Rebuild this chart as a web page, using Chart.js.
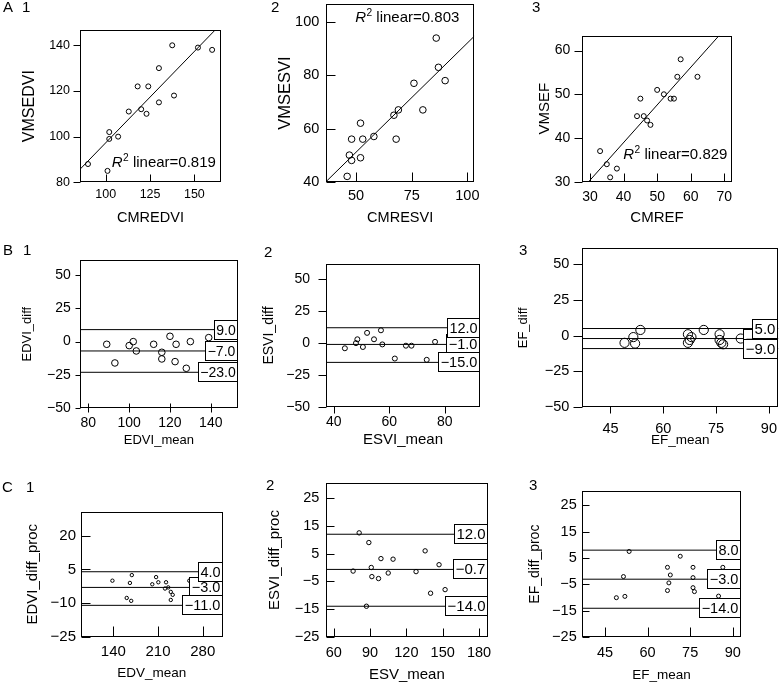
<!DOCTYPE html>
<html><head><meta charset="utf-8">
<script src="https://cdn.jsdelivr.net/npm/chart.js@4.4.0/dist/chart.umd.min.js"></script>
<style>
html,body{margin:0;padding:0;background:#fff;}
#wrap{position:relative;width:784px;height:683px;overflow:hidden;background:#fff;}
#wrap canvas{position:absolute;left:0;top:0;}
.lbl{position:absolute;font-family:"Liberation Sans",Arial,Helvetica,sans-serif;font-size:15px;line-height:16px;color:#000;white-space:nowrap;}
</style></head><body><div id="wrap"></div>
<script>
// ---------- DATA ----------
// Row A: correlation plots
const a1X = [90,101,102,102,107,113,118,120,123,124,130,130,137.5,138.5,152,160];
const a1Y = [88,85,102,99,100,111,122,112,110,122,130,115,140,118,139,138];
const a1FitX = [85.5,161.7], a1FitY = [85.7,146.7];
const a1R2 = "0.819";
const a1XTicks = [100,125,150], a1YTicks = [80,100,120,140];

const a2X = [46,47,48,48,52,52,53,58,67,68,69,76,80,86,87,90];
const a2Y = [42,50,48,56,62,49,56,57,65,56,67,77,67,94,83,78];
const a2FitX = [36.5,103.1], a2FitY = [40,94.7];
const a2R2 = "0.803";
const a2XTicks = [50,75,100], a2YTicks = [40,60,80,100];

const a3X = [33,35,36,38,44,45,46,47,48,50,52,54,55,56,57,62];
const a3Y = [37,34,31,33,45,49,45,44,43,51,50,49,49,54,58,54];
const a3FitX = [29.6,68.4], a3FitY = [30,63.4];
const a3R2 = "0.829";
const a3XTicks = [30,40,50,60,70], a3YTicks = [30,40,50,60];

// Row B: Bland-Altman (absolute differences)
const b1X = [89,93,100,102,103.5,112,116,116,120,123,122.5,128,130,139];
const b1Y = [-2,-16,-3,0,-7,-2,-8,-13,4,-2,-15,-20,0,3];
const b1Refs = [9,-7,-23], b1RefLabels = ["9.0","\u22127.0","\u221223.0"];
const b1XTicks = [80,100,120,140], b1YTicks = [-50,-25,0,25,50];

const b2X = [44,48,48.5,50.5,52,54.5,57,57.5,62,66,68,73.5,76.5];
const b2Y = [-4,0,3,-3,8,3,10,-1,-12,-2,-2,-13,1];
const b2Refs = [12,-1,-15], b2RefLabels = ["12.0","\u22121.0","\u221215.0"];
const b2XTicks = [40,60,80], b2YTicks = [-50,-25,0,25,50];

const b3X = [49,51.5,52,53.5,67,67,67.5,68,71.5,76,76,76.5,77,82];
const b3Y = [-5,-1,-5.5,4,1,-5,-3,-1,4,1,-3,-5,-6,-2];
const b3Refs = [5,-2,-9], b3RefLabels = ["5.0","\u22122.0","\u22129.0"];
const b3XTicks = [45,60,75,90], b3YTicks = [-50,-25,0,25,50];

// Row C: Bland-Altman (percent differences)
const c1X = [138.6,161,168,166,169,201,207,210.5,222.6,221,226,230,233,230,259];
const c1Y = [0,-7.7,-9,-1,2.5,-1.6,1.6,-0.7,-0.7,-3.5,-3,-5,-6.3,-8.6,0];
const c1Refs = [4,-3,-11], c1RefLabels = ["4.0","\u22123.0","\u221211.0"];
const c1XTicks = [140,210,280], c1YTicks = [-25,-10,5,20];

const c2X = [76,81,87,89,91,91.5,97,99,105,109,128,135.5,140,147,152];
const c2Y = [-1.3,12.5,-14,9,0,-3.3,-4,3.2,-2,3,-1.5,6,-9.3,1,-8];
const c2Refs = [12,-0.7,-14], c2RefLabels = ["12.0","\u22120.7","\u221214.0"];
const c2XTicks = [60,90,120,150,180], c2YTicks = [-25,-15,-5,5,15,25];

const c3X = [49,51.5,52,53.5,67,67,67.5,68,71.5,76,76,76,76.5,82,85,86.5];
const c3Y = [-10,-2,-9.5,7.5,1.5,-7.3,-4.4,-1.4,5.7,1.5,-2.4,-6.2,-7.7,-2,-9.4,1.5];
const c3Refs = [8,-3,-14], c3RefLabels = ["8.0","\u22123.0","\u221214.0"];
const c3XTicks = [45,60,75,90], c3YTicks = [-25,-15,-5,5,15,25];

const panelTags = [
  {t:"A",x:3,y:-1},{t:"1",x:22,y:-1},{t:"2",x:271,y:-1},{t:"3",x:532,y:-1},
  {t:"B",x:3,y:242},{t:"1",x:23,y:242},{t:"2",x:264,y:244},{t:"3",x:519,y:242},
  {t:"C",x:2,y:479},{t:"1",x:26,y:479},{t:"2",x:266,y:477},{t:"3",x:529,y:477}
];

// ---------- LAYOUT / STYLE ----------
const FONT = '"Liberation Sans", Arial, Helvetica, sans-serif';
const PW = 784, PH = 683;
const fmt = v => (v < 0 ? '\u2212' + Math.abs(v) : String(v));

const panels = [
  {xs:a1X, ys:a1Y, fitX:a1FitX, fitY:a1FitY, ann:{x:103.4,y:86.8,text:a1R2}, xTicks:a1XTicks, yTicks:a1YTicks,
   xTitle:"CMREDVI", yTitle:"VMSEDVI", L:80,R:221,T:30,B:182.3, xMin:85.5,xMax:165,yMin:80,yMax:146.7,
   yTD:50,xTD:36,yGap:10,xLab:12, xTick:{dir:'in',len:7}, yTick:{dir:'out',len:7}, r:2.5,
   tickFont:12.5, xtFont:14.5, ytFont:16, annFont:15},
  {xs:a2X, ys:a2Y, fitX:a2FitX, fitY:a2FitY, ann:{x:49.6,y:100,text:a2R2}, xTicks:a2XTicks, yTicks:a2YTicks,
   xTitle:"CMRESVI", yTitle:"VMSESVI", L:326,R:474.3,T:3,B:181.7, xMin:36.5,xMax:103.1,yMin:40,yMax:106.7,
   yTD:41,xTD:36,yGap:6.7,xLab:14.3, xTick:{dir:'in',len:9}, yTick:{dir:'in',len:9}, r:3.3,
   tickFont:14.5, xtFont:14.5, ytFont:16.5, annFont:15},
  {xs:a3X, ys:a3Y, fitX:a3FitX, fitY:a3FitY, ann:{x:39.9,y:35.1,text:a3R2}, xTicks:a3XTicks, yTicks:a3YTicks,
   xTitle:"CMREF", yTitle:"VMSEF", L:582.3,R:731.7,T:35.7,B:181.7, xMin:27.7,xMax:72.2,yMin:30,yMax:63.4,
   yTD:37,xTD:36,yGap:12,xLab:15, xTick:{dir:'in',len:8}, yTick:{dir:'out',len:8}, r:2.5,
   tickFont:14, xtFont:15, ytFont:15, annFont:15},
  {xs:b1X, ys:b1Y, refs:b1Refs, refLabels:b1RefLabels, xTicks:b1XTicks, yTicks:b1YTicks,
   xTitle:"EDVI_mean", yTitle:"EDVI_diff", L:80,R:237.7,T:260,B:408.3, xMin:75.9,xMax:153.2,yMin:-50,yMax:61.2,
   yTD:53,xTD:32,yGap:9.3,xLab:15, xTick:{dir:'out',len:5,cross:4}, yTick:{dir:'out',len:5}, r:3.3,
   tickFont:14, xtFont:13, ytFont:13, refFont:14},
  {xs:b2X, ys:b2Y, refs:b2Refs, refLabels:b2RefLabels, xTicks:b2XTicks, yTicks:b2YTicks,
   xTitle:"ESVI_mean", yTitle:"ESVI_diff", L:326,R:480,T:263.7,B:407.3, xMin:37.2,xMax:92.7,yMin:-50,yMax:61.9,
   yTD:57,xTD:33,yGap:16,xLab:15, xTick:{dir:'out',len:7}, yTick:{dir:'out',len:8}, r:2.5,
   tickFont:14, xtFont:15, ytFont:14, refFont:14.5},
  {xs:b3X, ys:b3Y, refs:b3Refs, refLabels:b3RefLabels, xTicks:b3XTicks, yTicks:b3YTicks,
   xTitle:"EF_mean", yTitle:"EF_diff", L:582.3,R:783,T:248.3,B:407.3, xMin:37,xMax:92.7,yMin:-50,yMax:61,
   yTD:59,xTD:33,yGap:13,xLab:21.7, xTick:{dir:'out',len:7}, yTick:{dir:'out',len:9}, r:4.6,
   tickFont:14.5, xtFont:13.5, ytFont:13, refFont:15},
  {xs:c1X, ys:c1Y, refs:c1Refs, refLabels:c1RefLabels, xTicks:c1XTicks, yTicks:c1YTicks,
   xTitle:"EDV_mean", yTitle:"EDVI_diff_proc", L:81,R:222.7,T:511.7,B:636.7, xMin:89.4,xMax:311.3,yMin:-25,yMax:30.8,
   yTD:48,xTD:37,yGap:5,xLab:15, xTick:{dir:'in',len:10}, yTick:{dir:'in',len:9}, r:1.7,
   tickFont:15, xtFont:13.5, ytFont:15, refFont:14.5},
  {xs:c2X, ys:c2Y, refs:c2Refs, refLabels:c2RefLabels, xTicks:c2XTicks, yTicks:c2YTicks,
   xTitle:"ESV_mean", yTitle:"ESVI_diff_proc", L:326,R:487.7,T:483.3,B:636.7, xMin:53.6,xMax:187.2,yMin:-25,yMax:30.4,
   yTD:51,xTD:38,yGap:6.7,xLab:16, xTick:{dir:'in',len:8}, yTick:{dir:'in',len:8}, r:2.2,
   tickFont:14.5, xtFont:15, ytFont:15, refFont:15},
  {xs:c3X, ys:c3Y, refs:c3Refs, refLabels:c3RefLabels, xTicks:c3XTicks, yTicks:c3YTicks,
   xTitle:"EF_mean", yTitle:"EF_diff_proc", L:582.3,R:740.7,T:491,B:637.3, xMin:37,xMax:92.8,yMin:-25,yMax:30.4,
   yTD:47,xTD:38,yGap:5.6,xLab:15.4, xTick:{dir:'in',len:9}, yTick:{dir:'in',len:7}, r:2,
   tickFont:14.5, xtFont:13.5, ytFont:14, refFont:14.5}
];

function makeDeco(p) {
  return {
    id: 'deco',
    afterDatasetsDraw(chart) {
      const ctx = chart.ctx, a = chart.chartArea;
      const xs = chart.scales.x, ys = chart.scales.y;
      ctx.save();
      ctx.strokeStyle = '#000'; ctx.lineWidth = 1; ctx.fillStyle = '#000';
      const l = Math.round(a.left) + 0.5, r = Math.round(a.right) - 0.5;
      const t = Math.round(a.top) + 0.5, b = Math.round(a.bottom) - 0.5;
      // reference line label boxes (mean first, then limits)
      if (p.refs) {
        ctx.font = p.refFont + 'px ' + FONT;
        [1, 0, 2].forEach(i => {
          const py = ys.getPixelForValue(p.refs[i]);
          const label = p.refLabels[i];
          const tw = ctx.measureText(label).width;
          const bw = Math.round(tw + 5), bh = 20;
          const bx = Math.round(a.right) - bw, by = Math.round(py - bh / 2);
          ctx.fillStyle = '#fff';
          ctx.fillRect(bx, by, bw, bh);
          ctx.strokeRect(bx + 0.5, by + 0.5, bw - 1, bh - 1);
          ctx.fillStyle = '#000';
          ctx.textAlign = 'center'; ctx.textBaseline = 'middle';
          ctx.fillText(label, bx + bw / 2, by + bh / 2 + 1);
        });
      }
      // frame
      ctx.strokeRect(l, t, r - l, b - t);
      // tick marks
      ctx.beginPath();
      p.xTicks.forEach(v => {
        const px = Math.round(xs.getPixelForValue(v)) + 0.5;
        if (p.xTick.dir === 'in') { ctx.moveTo(px, b); ctx.lineTo(px, b - p.xTick.len); }
        else { ctx.moveTo(px, b - (p.xTick.cross || 0)); ctx.lineTo(px, b + p.xTick.len); }
      });
      p.yTicks.forEach(v => {
        const py = Math.round(ys.getPixelForValue(v)) + 0.5;
        if (p.yTick.dir === 'in') { ctx.moveTo(l, py); ctx.lineTo(l + p.yTick.len, py); }
        else { ctx.moveTo(l, py); ctx.lineTo(l - p.yTick.len, py); }
      });
      ctx.stroke();
      // R^2 annotation
      if (p.ann) {
        const x0 = xs.getPixelForValue(p.ann.x), y0 = ys.getPixelForValue(p.ann.y);
        ctx.textAlign = 'left'; ctx.textBaseline = 'alphabetic'; ctx.fillStyle = '#000';
        ctx.font = 'italic ' + p.annFont + 'px ' + FONT;
        ctx.fillText('R', x0, y0);
        let w = ctx.measureText('R').width + 0.5;
        ctx.font = (p.annFont * 0.68) + 'px ' + FONT;
        ctx.fillText('2', x0 + w, y0 - p.annFont * 0.4);
        w += ctx.measureText('2').width;
        ctx.font = p.annFont + 'px ' + FONT;
        ctx.fillText(' linear=' + p.ann.text, x0 + w, y0);
      }
      ctx.restore();
    }
  };
}

function lineDs(pts) {
  return {data: pts, showLine: true, borderColor: '#000', borderWidth: 1, pointRadius: 0, pointHoverRadius: 0, fill: false};
}

function zeroPad(s) { s.paddingLeft = 0; s.paddingRight = 0; s.paddingTop = 0; s.paddingBottom = 0; }

function build(p) {
  const cv = document.createElement('canvas');
  cv.width = PW; cv.height = PH;
  document.getElementById('wrap').appendChild(cv);
  const ds = [];
  if (p.fitX) ds.push(lineDs(p.fitX.map((x, i) => ({x: x, y: p.fitY[i]}))));
  if (p.refs) p.refs.forEach(v => ds.push(lineDs([{x: p.xMin, y: v}, {x: p.xMax, y: v}])));
  ds.push({data: p.xs.map((x, i) => ({x: x, y: p.ys[i]})), showLine: false,
    pointRadius: p.r, pointHoverRadius: p.r, pointBorderColor: '#000',
    pointBackgroundColor: 'rgba(0,0,0,0)', pointBorderWidth: 1});
  const yW = p.yTD + p.ytFont / 2, xH = p.xTD + p.xtFont / 2;
  new Chart(cv, {
    type: 'scatter',
    data: {datasets: ds},
    options: {
      responsive: false, animation: false, devicePixelRatio: 1, events: [],
      layout: {padding: {left: p.L - yW, right: PW - p.R, top: p.T, bottom: Math.max(0, PH - p.B - xH)}},
      plugins: {legend: {display: false}, tooltip: {enabled: false}},
      scales: {
        x: {
          type: 'linear', position: 'bottom', min: p.xMin, max: p.xMax,
          afterBuildTicks: s => { s.ticks = p.xTicks.map(v => ({value: v})); },
          afterFit: s => { s.height = xH; zeroPad(s); },
          grid: {display: false, drawTicks: false}, border: {display: false},
          ticks: {autoSkip: false, maxRotation: 0, color: '#000', padding: p.xLab - 0.6 * p.tickFont,
                  font: {family: FONT, size: p.tickFont, lineHeight: 1.2}, callback: v => fmt(v)},
          title: {display: true, text: p.xTitle, color: '#000', padding: 0,
                  font: {family: FONT, size: p.xtFont, lineHeight: 1}}
        },
        y: {
          type: 'linear', position: 'left', min: p.yMin, max: p.yMax,
          afterBuildTicks: s => { s.ticks = p.yTicks.map(v => ({value: v})); },
          afterFit: s => { s.width = yW; zeroPad(s); },
          grid: {display: false, drawTicks: false}, border: {display: false},
          ticks: {autoSkip: false, color: '#000', padding: p.yGap,
                  font: {family: FONT, size: p.tickFont, lineHeight: 1.2}, callback: v => fmt(v)},
          title: {display: true, text: p.yTitle, color: '#000', padding: 0,
                  font: {family: FONT, size: p.ytFont, lineHeight: 1}}
        }
      }
    },
    plugins: [makeDeco(p)]
  });
}

panels.forEach(build);

const wrap = document.getElementById('wrap');
panelTags.forEach(g => {
  const d = document.createElement('div');
  d.className = 'lbl'; d.textContent = g.t;
  d.style.left = g.x + 'px'; d.style.top = g.y + 'px';
  wrap.appendChild(d);
});
</script></body></html>
